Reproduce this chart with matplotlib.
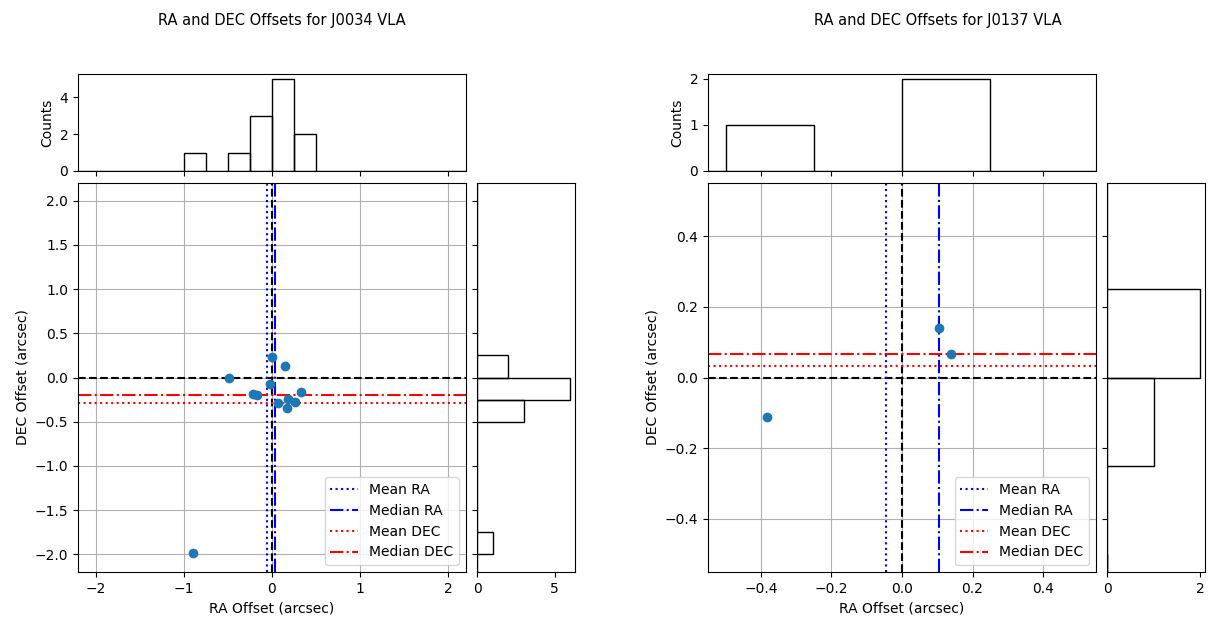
import numpy as np
import matplotlib
matplotlib.use('Agg')
import matplotlib.pyplot as plt

# offsets (arcsec)
ra_j0034 = [-0.485, 0.0, 0.148, -0.02, -0.21, -0.17, 0.326, 0.07, 0.185, 0.26, 0.17, -0.9]
dec_j0034 = [-0.008, 0.235, 0.128, -0.07, -0.19, -0.2, -0.16, -0.29, -0.24, -0.28, -0.34, -1.98]

ra_j0137 = [-0.383, 0.105, 0.139]
dec_j0137 = [-0.112, 0.141, 0.067]

W, H = 1208, 619
BIN = 0.25
bins = np.arange(-2.5, 2.5 + BIN, BIN)


def rect(x0, y0, x1, y1):
    # pixel box -> figure fraction
    return [x0 / W, 1 - y1 / H, (x1 - x0) / W, (y1 - y0) / H]


def offset_panel(fig, x0, name, ra, dec, lim, ticks, top_ticks, side_ticks, title_x):
    ax_top = fig.add_axes(rect(x0, 74, x0 + 388, 171))
    ax = fig.add_axes(rect(x0, 183, x0 + 388, 572))
    ax_side = fig.add_axes(rect(x0 + 399, 183, x0 + 497, 572))

    ax.scatter(ra, dec, zorder=3)
    ax.axhline(0, color='black', linestyle='--', zorder=2)
    ax.axvline(0, color='black', linestyle='--', zorder=2)
    ax.axvline(np.mean(ra), color='blue', linestyle=':', label='Mean RA')
    ax.axvline(np.median(ra), color='blue', linestyle='-.', label='Median RA')
    ax.axhline(np.mean(dec), color='red', linestyle=':', label='Mean DEC')
    ax.axhline(np.median(dec), color='red', linestyle='-.', label='Median DEC')
    ax.set_xlim(-lim, lim)
    ax.set_ylim(-lim, lim)
    ax.set_xticks(ticks[0])
    ax.set_yticks(ticks[1])
    ax.grid(True)
    ax.set_xlabel('RA Offset (arcsec)')
    ax.set_ylabel('DEC Offset (arcsec)')
    ax.legend(loc='lower right')

    ax_top.hist(ra, bins=bins, histtype='bar', fill=False, edgecolor='black')
    ax_top.set_xlim(-lim, lim)
    ax_top.set_xticks(ticks[0])
    ax_top.set_yticks(top_ticks)
    ax_top.tick_params(labelbottom=False)
    ax_top.set_ylabel('Counts')

    ax_side.hist(dec, bins=bins, histtype='bar', fill=False, edgecolor='black',
                 orientation='horizontal')
    ax_side.set_ylim(-lim, lim)
    ax_side.set_yticks(ticks[1])
    ax_side.set_xticks(side_ticks)
    ax_side.tick_params(labelleft=False)

    fig.text(title_x / W, 1 - 20 / H, 'RA and DEC Offsets for %s VLA' % name,
             ha='center', va='center', fontsize=10.5)


fig = plt.figure(figsize=(W / 100, H / 100), dpi=100)

offset_panel(fig, 78, 'J0034', ra_j0034, dec_j0034, 2.2,
             ([-2, -1, 0, 1, 2], np.arange(-2, 2.01, 0.5)), [0, 2, 4], [0, 5], 282)
offset_panel(fig, 708, 'J0137', ra_j0137, dec_j0137, 0.55,
             (np.arange(-0.4, 0.41, 0.2), np.arange(-0.4, 0.41, 0.2)), [0, 1, 2], [0, 2], 938)

plt.savefig('out.png', dpi=100)
